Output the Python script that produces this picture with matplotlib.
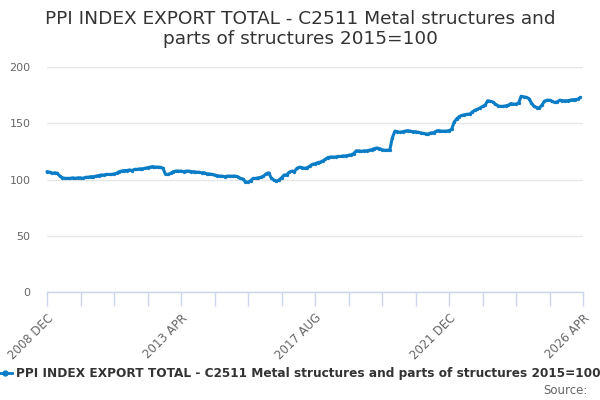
import matplotlib
matplotlib.use("Agg")
import matplotlib.pyplot as plt
from matplotlib.lines import Line2D

title = "PPI INDEX EXPORT TOTAL - C2511 Metal structures and\nparts of structures 2015=100"
series_name = "PPI INDEX EXPORT TOTAL - C2511 Metal structures and parts of structures 2015=100"

# Monthly values from 2008 DEC onwards
values = [
    107, 106.5, 105.5, 106, 105.5, 103, 101.5, 101, 101, 101, 101.5, 101, 101.5,
    101.5, 101, 102, 102, 102.5, 102.5, 103, 103.5, 104, 104, 104.5, 104.5,
    104.5, 105, 105.5, 107, 107.5, 108, 108, 108.5, 108, 109, 109, 109.5,
    109.5, 110, 110.5, 111, 111.5, 111, 111, 110.8, 110, 104.5, 104.5, 105.5,
    107, 107.5, 107.5, 107.5, 107, 107.5, 107.5, 107, 107, 106.5, 106.5, 106,
    106, 105, 105, 104.5, 104, 103.5, 103, 103, 102.5, 103, 103, 103,
    103, 102.5, 101, 100.5, 98, 97.5, 99, 101, 101, 101.5, 102, 103,
    105, 106, 101.5, 99.5, 98.5, 99.5, 101.5, 104, 104, 106.5, 107.5, 107,
    110, 111, 110.5, 110, 110.5, 112, 113.5, 114, 115, 115.5, 116.5, 118,
    119.5, 120, 120, 120, 120.5, 120.5, 121, 121, 121.5, 122, 123, 125.5,
    125.5, 125, 125.5, 125.5, 126, 126.5, 127.5, 128, 127.5, 126.5, 126, 126,
    126, 137, 143, 142.5, 142, 142.5, 143, 143.5, 143, 142.5, 142.5, 142,
    141.5, 141, 140.5, 140.5, 141.5, 141.5, 143, 143.5, 143, 143, 143, 143.5,
    144.5, 151, 154, 156, 157, 157.5, 158, 158, 160, 161.5, 162.5, 163.5,
    165, 166, 170, 169.5, 169, 167, 165.5, 165, 165, 165.5, 166, 167.5,
    167, 167, 168, 174, 173.5, 173, 172, 168, 165, 164, 163.5, 166,
    169.5, 170.5, 170.5, 169.5, 168.5, 169, 170.5, 170, 170, 170, 170.5, 171,
    171, 171.5, 173,
]
months = list(range(len(values)))

tick_step = 13
tick_labels = ["2008 DEC", "2013 APR", "2017 AUG", "2021 DEC", "2026 APR"]
y_ticks = [0, 50, 100, 150, 200]

line_color = "#0b7dc6"
text_color = "#333333"
tick_color = "#666666"
axis_color = "#ccd6eb"
grid_color = "#e6e6e6"

fig = plt.figure(figsize=(6, 4), dpi=100)
ax = fig.add_axes([47 / 600, 1 - 292 / 400, (583 - 47) / 600, (292 - 67) / 400])

ax.plot(months, values, color=line_color, lw=2.2, marker="o", ms=2.4,
        markeredgewidth=0, solid_capstyle="round", zorder=3, clip_on=False)

n_int = 16
ax.set_xlim(0, tick_step * n_int)
ax.set_ylim(0, 200)

ax.set_xticks([i * tick_step for i in range(n_int + 1)])
ax.set_xticklabels([tick_labels[i // 4] if i % 4 == 0 else "" for i in range(n_int + 1)],
                   rotation=45, ha="right", va="top", rotation_mode="anchor",
                   fontsize=8.5, color=tick_color)
ax.tick_params(axis="x", length=10, width=1, color=axis_color, pad=4)

ax.set_yticks(y_ticks)
ax.set_yticklabels([str(v) for v in y_ticks], fontsize=8, color=tick_color)
ax.tick_params(axis="y", length=0, pad=12)

ax.grid(axis="y", color=grid_color, lw=1)
ax.set_axisbelow(True)
for s in ["top", "right", "left"]:
    ax.spines[s].set_visible(False)
ax.spines["bottom"].set_color(axis_color)
ax.spines["bottom"].set_linewidth(1)

fig.text(0.5, 1 - 29 / 400, title, ha="center", va="center", fontsize=13.3,
         color=text_color, linespacing=1.2)

# legend
ly = 1 - 373 / 400
fig.add_artist(Line2D([-2 / 600, 12 / 600], [ly, ly], color=line_color, lw=2,
                      transform=fig.transFigure))
fig.add_artist(Line2D([5 / 600], [ly], color=line_color, marker="o", ms=3.5,
                      transform=fig.transFigure))
fig.text(16 / 600, ly, series_name, ha="left", va="center", fontsize=8.75,
         fontweight="bold", color=text_color)

fig.text(588 / 600, 1 - 390 / 400, "Source:", ha="right", va="center",
         fontsize=8.5, color=tick_color)

fig.savefig("out.png", dpi=100)
